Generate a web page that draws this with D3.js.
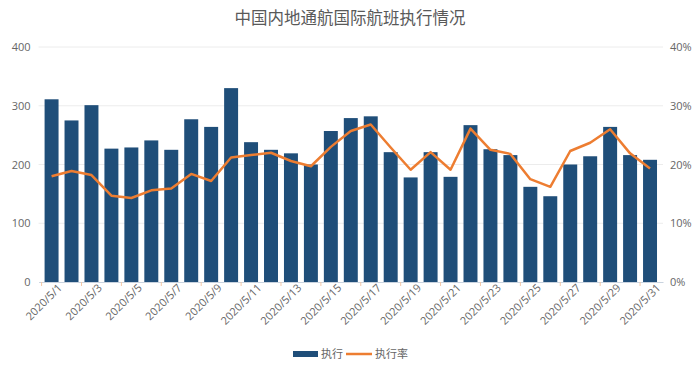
<!DOCTYPE html>
<html>
<head>
<meta charset="utf-8">
<script src="https://cdn.jsdelivr.net/npm/d3@7"></script>
<style>
  body { margin: 0; background: #fff; }
  text { font-family: "Open Sans", "Noto Sans CJK SC", sans-serif; }
</style>
</head>
<body>
<div id="chart"></div>
<script>
// data
const days = d3.range(1, 32).map(d => `2020/5/${d}`);
const flights = [311, 275, 301, 227, 229, 241, 225, 277, 264, 330, 238,
                 225, 219, 200, 257, 279, 282, 221, 178, 221, 179,
                 267, 226, 216, 162, 146, 200, 214, 264, 216, 208];
const rate = [18.0, 18.9, 18.2, 14.7, 14.3, 15.6, 15.9, 18.4, 17.2, 21.2, 21.6,
              22.0, 20.6, 19.7, 23.0, 25.7, 26.8, 22.9, 19.1, 22.1, 19.1,
              26.1, 22.5, 21.8, 17.5, 16.2, 22.3, 23.7, 26.0, 21.9, 19.3];
const leftTicks = [0, 100, 200, 300, 400];
const rightTicks = [0, 10, 20, 30, 40];

const width = 700, height = 373;
const margin = { top: 47, right: 37, bottom: 91, left: 38.6 };
const barColor = "#1f4e79", lineColor = "#ed7d31";

const svg = d3.select("#chart").append("svg")
    .attr("width", width)
    .attr("height", height);

// title
svg.append("text")
    .attr("x", width / 2)
    .attr("y", 24)
    .attr("text-anchor", "middle")
    .attr("fill", "#595959")
    .style("font-family", "'Noto Sans CJK SC', sans-serif")
    .style("font-size", "16.5px")
    .text("中国内地通航国际航班执行情况");

const x = d3.scaleBand()
    .domain(days)
    .range([margin.left, width - margin.right])
    .padding(0.3);

const y = d3.scaleLinear().domain([0, 400]).range([height - margin.bottom, margin.top]);
const y2 = d3.scaleLinear().domain([0, 40]).range([height - margin.bottom, margin.top]);

// grid
svg.append("g")
    .selectAll("line")
    .data(leftTicks.slice(1))
    .join("line")
    .attr("x1", margin.left)
    .attr("x2", width - margin.right)
    .attr("y1", d => y(d))
    .attr("y2", d => y(d))
    .attr("stroke", "#ececec")
    .attr("stroke-width", 1);

// left axis
const yAxis = svg.append("g")
    .attr("transform", `translate(${margin.left - 8},0)`)
    .call(d3.axisLeft(y).tickValues(leftTicks).tickSize(0).tickPadding(0));
yAxis.select(".domain").remove();
yAxis.selectAll("text").attr("fill", "#666").style("font-size", "11px");

// right axis
const y2Axis = svg.append("g")
    .attr("transform", `translate(${width - margin.right + 7},0)`)
    .call(d3.axisRight(y2).tickValues(rightTicks).tickFormat(d => d + "%").tickSize(0).tickPadding(0));
y2Axis.select(".domain").remove();
y2Axis.selectAll("text").attr("fill", "#666").style("font-size", "11px");

// bars
svg.append("g")
    .selectAll("rect")
    .data(flights)
    .join("rect")
    .attr("x", (d, i) => x(days[i]))
    .attr("y", d => y(d))
    .attr("width", x.bandwidth())
    .attr("height", d => y(0) - y(d))
    .attr("fill", barColor);

// x axis
const xAxis = svg.append("g")
    .attr("transform", `translate(0,${height - margin.bottom})`)
    .call(d3.axisBottom(x)
        .tickValues(days.filter((d, i) => i % 2 === 0))
        .tickSize(0)
        .tickPadding(6));
xAxis.select(".domain").attr("stroke", "#c9d3df");
xAxis.selectAll("text")
    .attr("fill", "#666")
    .style("font-size", "11px")
    .attr("text-anchor", "end")
    .attr("dx", "0.3em")
    .attr("dy", "0.6em")
    .attr("transform", "rotate(-45)");

// small ticks at band boundaries
svg.append("g")
    .selectAll("line")
    .data(days.filter((d, i) => i % 2 === 0))
    .join("line")
    .attr("x1", d => x(d) - x.step() * x.paddingInner() / 2)
    .attr("x2", d => x(d) - x.step() * x.paddingInner() / 2)
    .attr("y1", y(0))
    .attr("y2", y(0) + 4)
    .attr("stroke", "#f2c8a8");

// rate line
const line = d3.line()
    .x((d, i) => x(days[i]) + x.bandwidth() / 2)
    .y(d => y2(d));

svg.append("path")
    .datum(rate)
    .attr("fill", "none")
    .attr("stroke", lineColor)
    .attr("stroke-width", 2.5)
    .attr("stroke-linejoin", "round")
    .attr("d", line);

// legend
const legend = svg.append("g").attr("transform", "translate(293,354)");
legend.append("rect")
    .attr("x", 0).attr("y", -3)
    .attr("width", 25).attr("height", 6)
    .attr("fill", barColor);
legend.append("text")
    .attr("x", 28).attr("y", 4)
    .attr("fill", "#666")
    .style("font-size", "11px")
    .style("font-family", "'Noto Sans CJK SC', sans-serif")
    .text("执行");
legend.append("line")
    .attr("x1", 53).attr("x2", 79)
    .attr("y1", 0).attr("y2", 0)
    .attr("stroke", lineColor)
    .attr("stroke-width", 2.5);
legend.append("text")
    .attr("x", 82).attr("y", 4)
    .attr("fill", "#666")
    .style("font-size", "11px")
    .style("font-family", "'Noto Sans CJK SC', sans-serif")
    .text("执行率");
</script>
</body>
</html>
